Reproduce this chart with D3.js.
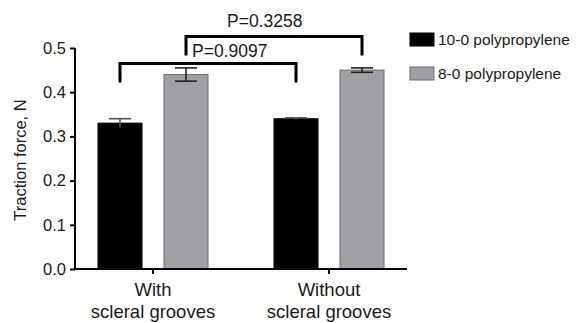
<!DOCTYPE html>
<html>
<head>
<meta charset="utf-8">
<script src="https://cdn.jsdelivr.net/npm/d3@7"></script>
<style>
  body { margin: 0; background: #fff; }
  svg text { font-family: "Liberation Sans", Arial, Helvetica, sans-serif; fill: #1a1a1a; }
</style>
</head>
<body>
<div id="chart"></div>
<script>
// chart data
var groups = ["With|scleral grooves", "Without|scleral grooves"];
var series = ["10-0 polypropylene", "8-0 polypropylene"];
var means = [[0.33, 0.44], [0.34, 0.45]];
var errs = [[0.01, 0.015], [0.002, 0.005]];
var yTicks = [0.0, 0.1, 0.2, 0.3, 0.4, 0.5];
var fills = ["#000000", "#a09fa4"];
var strokes = ["#000000", "#6e6e72"];
// brackets: series index, groups compared, height, label
var brackets = [
  {s: 0, a: 0, b: 1, level: 0.465, label: "P=0.9097"},
  {s: 1, a: 0, b: 1, level: 0.526, label: "P=0.3258"}
];

var W = 577, H = 323;
var svg = d3.select("#chart").append("svg")
  .attr("width", W).attr("height", H);

var y = d3.scaleLinear().domain([0, 0.5]).range([269, 48]);
var x0 = d3.scaleBand().domain(groups).range([65, 417]);
var x1 = d3.scaleBand().domain(series).range([33, 143]).paddingInner(1 / 3);

var barCenter = function(g, s) { return x0(groups[g]) + x1(series[s]) + x1.bandwidth() / 2; };

// bars
groups.forEach(function(g, gi) {
  series.forEach(function(s, si) {
    svg.append("rect")
      .attr("x", x0(g) + x1(s))
      .attr("y", y(means[gi][si]))
      .attr("width", x1.bandwidth())
      .attr("height", y(0) - y(means[gi][si]))
      .attr("fill", fills[si])
      .attr("stroke", strokes[si])
      .attr("stroke-width", 1);
  });
});

// error bars
groups.forEach(function(g, gi) {
  series.forEach(function(s, si) {
    var cx = barCenter(gi, si), m = means[gi][si], e = errs[gi][si];
    var col = si === 0 ? "#555" : "#222";
    var eb = svg.append("g").attr("stroke", col).attr("stroke-width", 1.6);
    eb.append("line").attr("x1", cx).attr("x2", cx).attr("y1", y(m + e)).attr("y2", y(m - e));
    eb.append("line").attr("x1", cx - 11).attr("x2", cx + 11).attr("y1", y(m + e)).attr("y2", y(m + e));
    if (si === 1) {
      eb.append("line").attr("x1", cx - 11).attr("x2", cx + 11).attr("y1", y(m - e)).attr("y2", y(m - e));
    }
  });
});

// y axis
var yAxis = d3.axisLeft(y).tickValues(yTicks).tickFormat(d3.format(".1f")).tickSize(5).tickPadding(4);
var ya = svg.append("g").attr("transform", "translate(75,0)").call(yAxis);
ya.select(".domain").attr("stroke-width", 2).attr("d", "M0,48V270");
ya.selectAll(".tick line").attr("stroke-width", 2);
ya.selectAll(".tick text").attr("font-size", 16.5).style("font-family", "Liberation Sans, Arial, sans-serif").attr("fill", "#1a1a1a");

// x axis
var xAxis = d3.axisBottom(x0).tickSize(5).tickFormat("");
var xa = svg.append("g").attr("transform", "translate(0,269)").call(xAxis);
xa.select(".domain").attr("stroke-width", 2).attr("d", "M74,0H407");
xa.selectAll(".tick line").attr("stroke-width", 2);
groups.forEach(function(g) {
  var parts = g.split("|");
  var cx = x0(g) + x0.bandwidth() / 2;
  svg.append("text").attr("x", cx).attr("y", 296).attr("text-anchor", "middle").attr("font-size", 18.5).text(parts[0]);
  svg.append("text").attr("x", cx).attr("y", 318).attr("text-anchor", "middle").attr("font-size", 18.5).text(parts[1]);
});

// y title
svg.append("text")
  .attr("transform", "translate(26,160) rotate(-90)")
  .attr("text-anchor", "middle")
  .attr("font-size", 16.5)
  .text("Traction force, N");

// significance brackets
brackets.forEach(function(b) {
  var xa_ = barCenter(b.a, b.s), xb_ = barCenter(b.b, b.s);
  var yl = y(b.level);
  var legEnd = yl + 19;
  svg.append("path")
    .attr("d", "M" + xa_ + "," + legEnd + "V" + yl + "H" + xb_ + "V" + legEnd)
    .attr("fill", "none").attr("stroke", "#000").attr("stroke-width", 3);
});
svg.append("text").attr("x", 192).attr("y", 57).attr("font-size", 17.5).text(brackets[0].label);
svg.append("text").attr("x", 227).attr("y", 27).attr("font-size", 17.5).text(brackets[1].label);

// legend
series.forEach(function(s, i) {
  var ly = 33 + i * 34;
  svg.append("rect").attr("x", 410).attr("y", ly).attr("width", 24).attr("height", 13)
    .attr("fill", fills[i]).attr("stroke", strokes[i]).attr("stroke-width", 1);
  svg.append("text").attr("x", 438).attr("y", ly + 12).attr("font-size", 15.5).text(s);
});
</script>
</body>
</html>
